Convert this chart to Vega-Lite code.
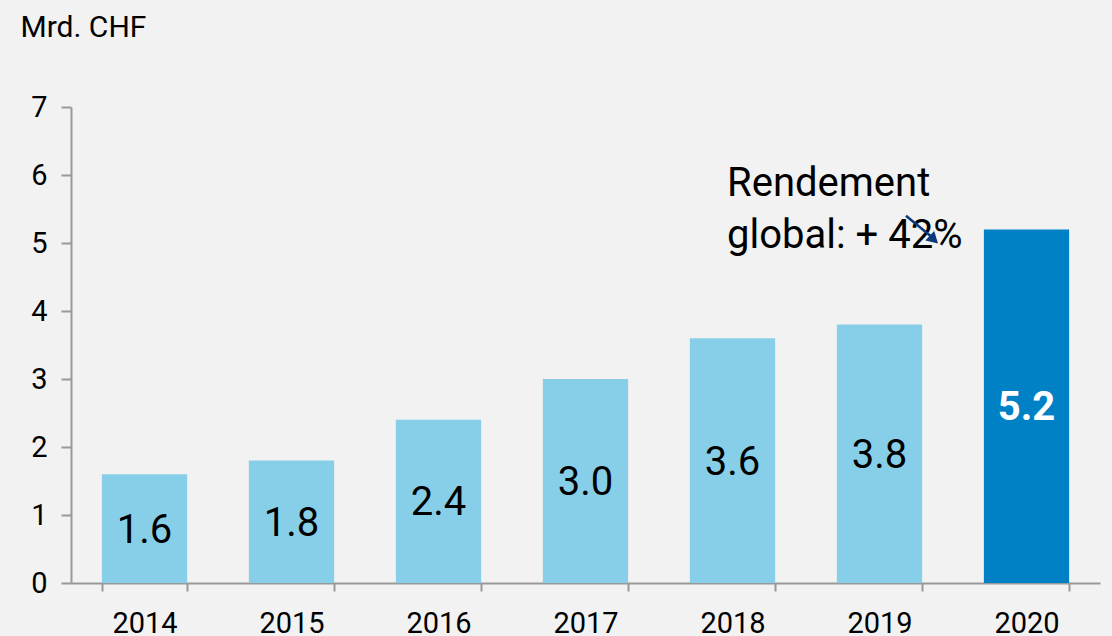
{
  "$schema": "https://vega.github.io/schema/vega-lite/v6.json",
  "width": 1029,
  "height": 476,
  "autosize": {"type": "none"},
  "padding": {"left": 71, "top": 107, "right": 12, "bottom": 53},
  "background": "#f2f2f2",
  "config": {
    "view": {"stroke": null},
    "font": "Roboto",
    "axis": {"labelFont": "Roboto", "titleFont": "Roboto"}
  },
  "datasets": {
    "bars": [
      {"year": "2014", "value": 1.6},
      {"year": "2015", "value": 1.8},
      {"year": "2016", "value": 2.4},
      {"year": "2017", "value": 3.0},
      {"year": "2018", "value": 3.6},
      {"year": "2019", "value": 3.8},
      {"year": "2020", "value": 5.2}
    ],
    "note": [
      {"x": 4.463, "y": 5.69, "label": ["Rendement", "global: + 42%"]}
    ],
    "arrow": [
      {"x": 5.68, "y": 5.4, "x2": 5.86, "y2": 5.08}
    ],
    "head": [
      {"x": 5.87, "y": 5.05}
    ]
  },
  "layer": [
    {
      "layer": [
        {
          "data": {"name": "bars"},
          "mark": {"type": "bar"},
          "encoding": {
            "x": {
              "field": "year", "type": "ordinal",
              "scale": {"paddingInner": 0.42, "paddingOuter": 0.21},
              "axis": {
                "title": null, "labelAngle": 0, "labelFontSize": 29, "labelColor": "#000000",
                "labelPadding": 18, "tickBand": "extent", "tickSize": 8, "tickColor": "#999999",
                "domainColor": "#999999", "domainWidth": 2, "tickWidth": 2
              }
            },
            "y": {
              "field": "value", "type": "quantitative",
              "scale": {"domain": [0, 7], "nice": false},
              "axis": {
                "title": "Mrd. CHF", "titleAngle": 0, "titleAlign": "left", "titleBaseline": "alphabetic",
                "titleX": -51, "titleY": -71, "titleFontSize": 30, "titleFontWeight": "normal", "titleColor": "#000000",
                "values": [0, 1, 2, 3, 4, 5, 6, 7], "format": "d", "grid": false, "labelFontSize": 29, "labelColor": "#000000",
                "labelPadding": 14, "tickSize": 10, "tickColor": "#999999", "domainColor": "#999999",
                "domainWidth": 2, "tickWidth": 2
              }
            },
            "color": {
              "condition": {"test": "datum.year === '2020'", "value": "#0081c6"},
              "value": "#87cfe8"
            }
          }
        },
        {
          "data": {"name": "bars"},
          "transform": [
            {"filter": "datum.year !== '2020'"},
            {"calculate": "datum.value / 2", "as": "half"}
          ],
          "mark": {"type": "text", "fontSize": 40, "baseline": "middle", "dy": 2, "color": "#000000"},
          "encoding": {
            "x": {"field": "year", "type": "ordinal"},
            "y": {"field": "half", "type": "quantitative"},
            "text": {"field": "value", "type": "quantitative", "format": ".1f"}
          }
        },
        {
          "data": {"name": "bars"},
          "transform": [
            {"filter": "datum.year === '2020'"},
            {"calculate": "datum.value / 2", "as": "half"}
          ],
          "mark": {"type": "text", "fontSize": 40, "fontWeight": "bold", "baseline": "middle", "dy": 2, "color": "#ffffff"},
          "encoding": {
            "x": {"field": "year", "type": "ordinal"},
            "y": {"field": "half", "type": "quantitative"},
            "text": {"field": "value", "type": "quantitative", "format": ".1f"}
          }
        }
      ]
    },
    {
      "layer": [
        {
          "data": {"name": "note"},
          "mark": {"type": "text", "fontSize": 40, "align": "left", "baseline": "alphabetic", "lineHeight": 52, "color": "#000000"},
          "encoding": {
            "x": {"field": "x", "type": "quantitative", "scale": {"domain": [0, 7], "nice": false, "zero": false}, "axis": null},
            "y": {"field": "y", "type": "quantitative"},
            "text": {"field": "label"}
          }
        },
        {
          "data": {"name": "arrow"},
          "mark": {"type": "rule", "color": "#0a3a7a", "strokeWidth": 2.5},
          "encoding": {
            "x": {"field": "x", "type": "quantitative", "axis": null},
            "y": {"field": "y", "type": "quantitative"},
            "x2": {"field": "x2"},
            "y2": {"field": "y2"}
          }
        },
        {
          "data": {"name": "head"},
          "mark": {"type": "point", "shape": "triangle-up", "filled": true, "color": "#0a3a7a", "size": 170, "angle": 133, "opacity": 1},
          "encoding": {
            "x": {"field": "x", "type": "quantitative", "axis": null},
            "y": {"field": "y", "type": "quantitative"}
          }
        }
      ]
    }
  ],
  "resolve": {"scale": {"x": "independent"}}
}
